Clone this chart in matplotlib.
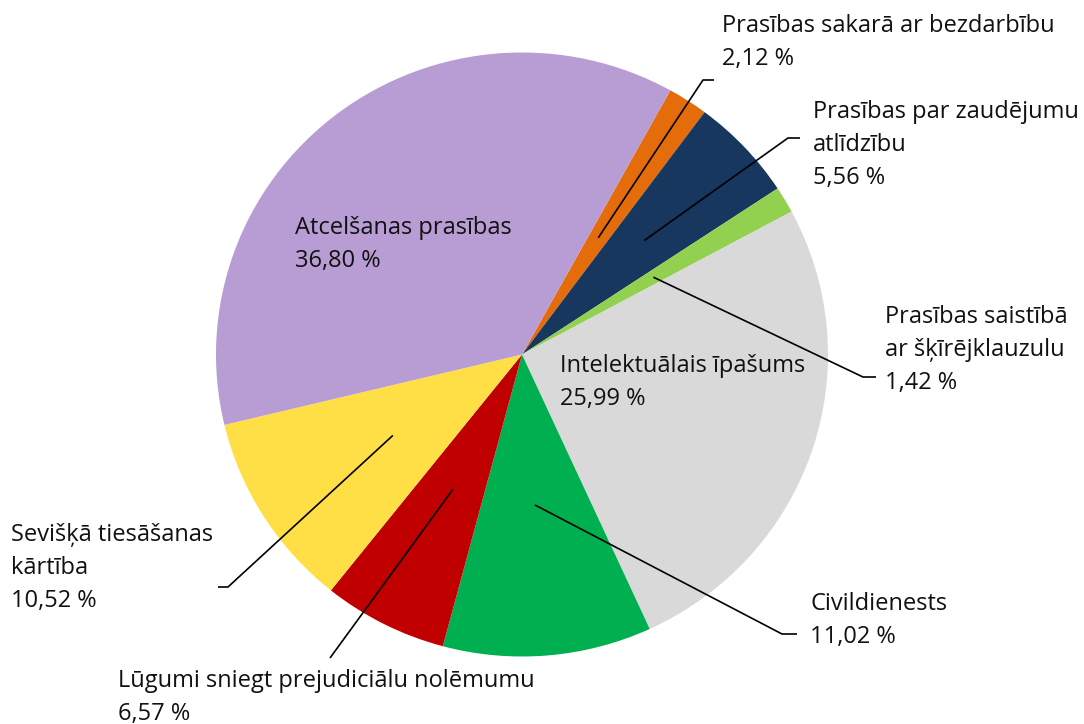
import matplotlib.pyplot as plt
import numpy as np

plt.rcParams['font.family'] = ['Open Sans', 'DejaVu Sans']

# slices, clockwise from the top-right
labels = ["Prasības sakarā ar bezdarbību", "Prasības par zaudējumu\natlīdzību",
          "Prasības saistībā\nar šķīrējklauzulu", "Intelektuālais īpašums",
          "Civildienests", "Lūgumi sniegt prejudiciālu nolēmumu",
          "Sevišķā tiesāšanas\nkārtība", "Atcelšanas prasības"]
values = [2.12, 5.56, 1.42, 25.99, 11.02, 6.57, 10.52, 36.80]
colors = ['#e46c0a', '#17375e', '#92d050', '#d9d9d9',
          '#00b050', '#c00000', '#ffdf45', '#b89cd4']

# pixel layout of the reference (1084x724), pie centre and radii
W, H = 1084, 724
cx, cy = 522, 354.5
rx, ry = 306, 302

def px(x, y):
    return (x - cx) / rx, (cy - y) / ry

fig = plt.figure(figsize=(W / 100, H / 100), dpi=100)
ax = fig.add_axes([0, 0, 1, 1])

wedges, _ = ax.pie(values, colors=colors, startangle=61, counterclock=False,
                   radius=1, wedgeprops=dict(linewidth=0))
ax.set_aspect('auto')
ax.set_xlim(-cx / rx, (W - cx) / rx)
ax.set_ylim(-(H - cy) / ry, cy / ry)
ax.axis('off')

def pct(v):
    return f"{v:.2f}".replace('.', ',') + " %"

fs = 17
ls = 1.50

# labels with leader lines:
# index, start radius, text pos (last baseline), elbow, end of tick
outside = [
    (0, 0.46, (722, 65), (703, 80), (714, 80)),
    (1, 0.55, (813, 184), (788, 138), (800, 138)),
    (2, 0.50, (885, 389), (863, 377), (876, 377)),
    (4, 0.50, (810, 643), (782, 634), (797, 634)),
    (5, 0.50, (118, 720), (330, 658), None),
    (6, 0.50, (11, 607), (228, 587), (218, 587)),
]
for i, r, tpos, elbow, end in outside:
    w = wedges[i]
    mid = np.deg2rad((w.theta1 + w.theta2) / 2)
    x0, y0 = r * np.cos(mid), r * np.sin(mid)
    ex, ey = px(*elbow)
    xs, ys = [x0, ex], [y0, ey]
    if end is not None:
        tx, ty = px(*end)
        xs.append(tx)
        ys.append(ty)
    ax.plot(xs, ys, color='black', lw=1.2, solid_capstyle='butt')
    x, y = px(*tpos)
    ax.text(x, y, labels[i] + "\n" + pct(values[i]), fontsize=fs,
            ha='left', va='baseline', linespacing=ls, color='#111111')

# labels inside the pie
inside = [(7, (295, 267)), (3, (560, 405))]
for i, tpos in inside:
    x, y = px(*tpos)
    ax.text(x, y, labels[i] + "\n" + pct(values[i]), fontsize=fs,
            ha='left', va='baseline', linespacing=ls, color='#111111')

fig.savefig('out.png', dpi=100)
